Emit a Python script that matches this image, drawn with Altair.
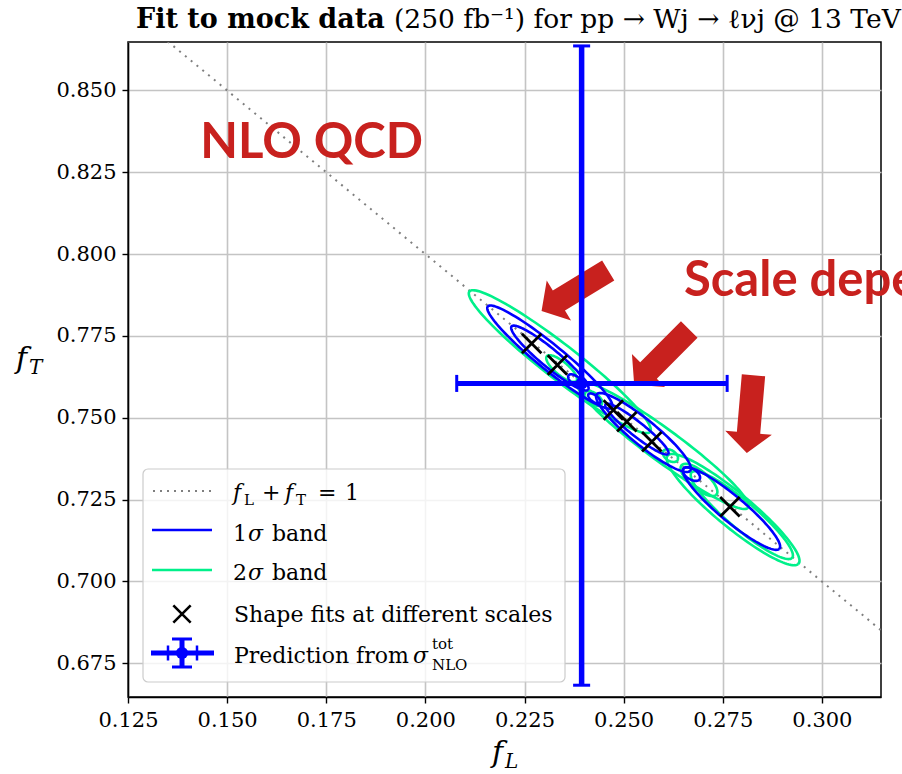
import math
import altair as alt
import pandas as pd

# ---------------------------------------------------------------- data
# shape fits of (f_L, f_T) at different renormalisation/factorisation scales
fit_fL = [0.2268, 0.2333, 0.2474, 0.2508, 0.2571, 0.2768]
fit_fT = [0.7727, 0.7661, 0.7524, 0.7488, 0.7427, 0.7228]

# prediction from sigma_tot at NLO, with asymmetric uncertainties
pred_fL = [0.2394]
pred_fL_lo = [0.2079]
pred_fL_hi = [0.2761]
pred_fT = [0.7605]
pred_fT_lo = [0.6683]
pred_fT_hi = [0.8636]

# f_L + f_T = 1 reference line
diag_fL = [0.10, 0.35]
diag_fT = [0.90, 0.65]

# confidence contours, each approximated by an ellipse:
# major axis end points (x1, y1) -> (x2, y2) and half width hw
c_band = ["2s", "2s", "2s", "2s", "2s", "2s", "2s", "2s",
          "1s", "1s", "1s", "1s", "1s", "1s", "1s", "1s"]
c_x1 = [0.2112, 0.2385, 0.2612, 0.2672, 0.2307, 0.2602, 0.2647, 0.2405,
        0.2158, 0.2218, 0.2433, 0.2455, 0.2652, 0.2652, 0.2362, 0.2412]
c_y1 = [0.7887, 0.7609, 0.7386, 0.7334, 0.7689, 0.7401, 0.7356, 0.7579,
        0.7841, 0.7780, 0.7573, 0.7542, 0.7346, 0.7346, 0.7631, 0.7573]
c_x2 = [0.2566, 0.2813, 0.2940, 0.2924, 0.2380, 0.2634, 0.2733, 0.2443,
        0.2470, 0.2410, 0.2667, 0.2612, 0.2892, 0.2690, 0.2397, 0.2440]
c_y2 = [0.7456, 0.7224, 0.7053, 0.7071, 0.7612, 0.7368, 0.7264, 0.7539,
        0.7530, 0.7585, 0.7337, 0.7389, 0.7099, 0.7310, 0.7594, 0.7545]
c_hw = [0.00340, 0.00320, 0.00340, 0.00270, 0.00130, 0.00105, 0.00175, 0.00105,
        0.00250, 0.00180, 0.00250, 0.00140, 0.00250, 0.00105, 0.00085, 0.00065]

# annotation arrows: centre, rotation (deg, clockwise from pointing down)
arrow_fL = [0.2377, 0.2596, 0.2819]
arrow_fT = [0.7888, 0.7685, 0.7511]
arrow_angle = [58.7, 44.9, 4.9]

x_ticks = [0.125, 0.150, 0.175, 0.200, 0.225, 0.250, 0.275, 0.300]
y_ticks = [0.675, 0.700, 0.725, 0.750, 0.775, 0.800, 0.825, 0.850]

BLUE = "#0000ff"
GREEN = "#00f08a"
RED = "#c8211e"
GREY = "#7f7f7f"
SERIF = "DejaVu Serif"

# ---------------------------------------------------------------- tables
rows = []
for i in range(len(c_band)):
    cx, cy = (c_x1[i] + c_x2[i]) / 2, (c_y1[i] + c_y2[i]) / 2
    ax, ay = (c_x2[i] - c_x1[i]) / 2, (c_y2[i] - c_y1[i]) / 2
    n = 120
    for k in range(n + 1):
        t = 2 * math.pi * k / n
        rows.append({
            "cid": i, "band": c_band[i], "k": k,
            "fL": cx + ax * math.cos(t) + c_hw[i] * math.sin(t),
            "fT": cy + ay * math.cos(t) + c_hw[i] * math.sin(t),
        })
contours = pd.DataFrame(rows)

fits = pd.DataFrame({"fL": fit_fL, "fT": fit_fT})
pred = pd.DataFrame({"fL": pred_fL, "fL_lo": pred_fL_lo, "fL_hi": pred_fL_hi,
                     "fT": pred_fT, "fT_lo": pred_fT_lo, "fT_hi": pred_fT_hi})
diag = pd.DataFrame({"fL": diag_fL, "fT": diag_fT})
arrows = pd.DataFrame({"fL": arrow_fL, "fT": arrow_fT, "angle": arrow_angle})
one = pd.DataFrame({"k": [0]})

# ---------------------------------------------------------------- scales / axes
xs = alt.Scale(domain=[0.125, 0.3149], nice=False, zero=False)
ys = alt.Scale(domain=[0.6647, 0.8648], nice=False, zero=False)
axis_style = dict(title=None, format=".3f", grid=True, gridColor="#c4c4c4",
                  gridWidth=1.6, tickColor="black", tickSize=6, tickWidth=1.4,
                  domainColor="black", domainWidth=1.5, labelFont=SERIF,
                  labelFontSize=21, labelColor="black", labelFlush=False,
                  labelOverlap=False)
xaxis = alt.Axis(values=x_ticks, labelPadding=6, **axis_style)
yaxis = alt.Axis(values=y_ticks, labelPadding=6, **axis_style)


def X(f="fL"):
    return alt.X(f, type="quantitative", scale=xs, axis=xaxis)


def Y(f="fT"):
    return alt.Y(f, type="quantitative", scale=ys, axis=yaxis)


X_PATH = "M -1 -1 L 1 1 M -1 1 L 1 -1"
HCAP = "M -1 0 L 1 0"
VCAP = "M 0 -1 L 0 1"
ARROW = "M -0.3 -1 L 0.3 -1 L 0.3 0.48 L 0.6 0.48 L 0 1 L -0.6 0.48 L -0.3 0.48 Z"

# ---------------------------------------------------------------- plot layers
diag_line = alt.Chart(diag).mark_line(
    color=GREY, strokeWidth=2, strokeDash=[2, 5.5], clip=True
).encode(x=X(), y=Y())

contour_lines = alt.Chart(contours).mark_line(strokeWidth=2.6, clip=True).encode(
    x=X(), y=Y(), detail="cid:N", order="k:Q",
    color=alt.Color("band:N", scale=alt.Scale(domain=["1s", "2s"], range=[BLUE, GREEN]),
                    legend=None),
)

fit_marks = alt.Chart(fits).mark_point(
    shape=X_PATH, size=380, stroke="black", strokeWidth=2.8, filled=False, opacity=1
).encode(x=X(), y=Y())

arrow_marks = alt.Chart(arrows).mark_point(
    shape=ARROW, size=78 * 78, filled=True, color=RED, opacity=1, strokeWidth=0
).encode(x=X(), y=Y(), angle=alt.Angle("angle:Q", scale=None))

err_v = alt.Chart(pred).mark_rule(color=BLUE, strokeWidth=5.5).encode(
    x=X(), y=Y("fT_lo"), y2="fT_hi")
err_h = alt.Chart(pred).mark_rule(color=BLUE, strokeWidth=5).encode(
    x=X("fL_lo"), x2="fL_hi", y=Y())
cap_top = alt.Chart(pred).mark_point(shape=HCAP, size=290, stroke=BLUE, strokeWidth=3,
                                     opacity=1).encode(x=X(), y=Y("fT_hi"))
cap_bot = alt.Chart(pred).mark_point(shape=HCAP, size=290, stroke=BLUE, strokeWidth=3,
                                     opacity=1).encode(x=X(), y=Y("fT_lo"))
cap_left = alt.Chart(pred).mark_point(shape=VCAP, size=290, stroke=BLUE, strokeWidth=3,
                                      opacity=1).encode(x=X("fL_lo"), y=Y())
cap_right = alt.Chart(pred).mark_point(shape=VCAP, size=290, stroke=BLUE, strokeWidth=3,
                                       opacity=1).encode(x=X("fL_hi"), y=Y())
centre = alt.Chart(pred).mark_point(shape="circle", size=150, filled=True, color=BLUE,
                                    opacity=1).encode(x=X(), y=Y())

nlo_text = alt.Chart(pd.DataFrame({"fL": [0.1432], "fT": [0.8294], "t": ["NLO QCD"]})).mark_text(
    font="Lato", fontWeight="bold", fontSize=49, color=RED, align="left",
    baseline="alphabetic").encode(x=X(), y=Y(), text="t:N")
scale_text = alt.Chart(pd.DataFrame({"fL": [0.2652], "fT": [0.7872], "t": ["Scale dependence"]})).mark_text(
    font="Lato", fontWeight="bold", fontSize=49, color=RED, align="left",
    baseline="alphabetic").encode(x=X(), y=Y(), text="t:N")


# ---------------------------------------------------------------- text helpers
def label(txt, px, py, size=22, style="normal", weight="normal", font=SERIF, color="black"):
    return alt.Chart(one).mark_text(
        text=txt, font=font, fontSize=size, fontStyle=style, fontWeight=weight,
        color=color, align="left", baseline="alphabetic",
    ).encode(x=alt.value(px), y=alt.value(py))


title_layers = [
    label("Fit to mock data", 8, -14, size=27, weight="bold"),
    label("(250 fb\u207b\u00b9) for pp \u2192 Wj \u2192 \u2113\u03bdj @ 13 TeV", 266, -14, size=26.5),
    # axis titles
    label("f", 364, 720, size=30, style="italic"),
    label("L", 377, 726, size=20, style="italic"),
    label("f", -112, 326, size=30, style="italic"),
    label("T", -99, 332, size=20, style="italic"),
]

# ---------------------------------------------------------------- legend
legend_box = alt.Chart(one).mark_rect(
    fill="white", fillOpacity=0.8, stroke="#cccccc", strokeWidth=1.2, cornerRadius=5
).encode(x=alt.value(15), x2=alt.value(437), y=alt.value(427), y2=alt.value(640))

leg_diag = alt.Chart(one).mark_rule(color=GREY, strokeWidth=2, strokeDash=[2, 5]).encode(
    x=alt.value(25), x2=alt.value(83), y=alt.value(449))
leg_blue = alt.Chart(one).mark_rule(color=BLUE, strokeWidth=2.6).encode(
    x=alt.value(24), x2=alt.value(84), y=alt.value(488))
leg_green = alt.Chart(one).mark_rule(color=GREEN, strokeWidth=2.6).encode(
    x=alt.value(24), x2=alt.value(84), y=alt.value(528))
leg_x = alt.Chart(one).mark_point(shape=X_PATH, size=300, stroke="black", strokeWidth=2.6,
                                  filled=False, opacity=1).encode(
    x=alt.value(54), y=alt.value(572))
leg_eh = alt.Chart(one).mark_rule(color=BLUE, strokeWidth=5).encode(
    x=alt.value(23), x2=alt.value(86), y=alt.value(611))
leg_ev = alt.Chart(one).mark_rule(color=BLUE, strokeWidth=5).encode(
    x=alt.value(54), y=alt.value(596), y2=alt.value(626))
leg_caps = [
    alt.Chart(one).mark_point(shape=HCAP, size=400, stroke=BLUE, strokeWidth=3, opacity=1)
    .encode(x=alt.value(54), y=alt.value(yy)) for yy in (597, 625)
] + [
    alt.Chart(one).mark_point(shape=VCAP, size=225, stroke=BLUE, strokeWidth=2.5, opacity=1)
    .encode(x=alt.value(xx), y=alt.value(611)) for xx in (40, 69)
]
leg_dot = alt.Chart(one).mark_point(shape="circle", size=150, filled=True, color=BLUE,
                                    opacity=1).encode(x=alt.value(54), y=alt.value(611))

legend_text = [
    label("f", 105, 458, style="italic"),
    label("L", 116, 463, size=15),
    label("+", 134, 458),
    label("f", 157, 458, style="italic"),
    label("T", 168, 463, size=15),
    label("=", 190, 458),
    label("1", 217, 458),
    label("1", 105, 499),
    label("\u03c3", 120, 499, style="italic"),
    label("band", 144, 499),
    label("2", 105, 538),
    label("\u03c3", 120, 538, style="italic"),
    label("band", 144, 538),
    label("Shape fits at different scales", 106, 580),
    label("Prediction from", 106, 621),
    label("\u03c3", 285, 621, style="italic"),
    label("tot", 304, 607, size=15),
    label("NLO", 304, 628, size=15),
]

chart = alt.layer(
    diag_line, contour_lines, fit_marks, arrow_marks,
    err_v, err_h, cap_top, cap_bot, cap_left, cap_right, centre,
    nlo_text, scale_text,
    legend_box, leg_diag, leg_blue, leg_green, leg_x, leg_eh, leg_ev, *leg_caps, leg_dot,
    *legend_text, *title_layers,
).properties(
    width=753, height=655,
    autosize=alt.AutoSizeParams(type="none"),
    padding={"left": 128, "top": 42, "right": 21, "bottom": 77},
    background="white",
).configure_view(stroke="black", strokeWidth=1.5)

chart.save("out.html", embed_options={"renderer": "svg", "actions": False})
